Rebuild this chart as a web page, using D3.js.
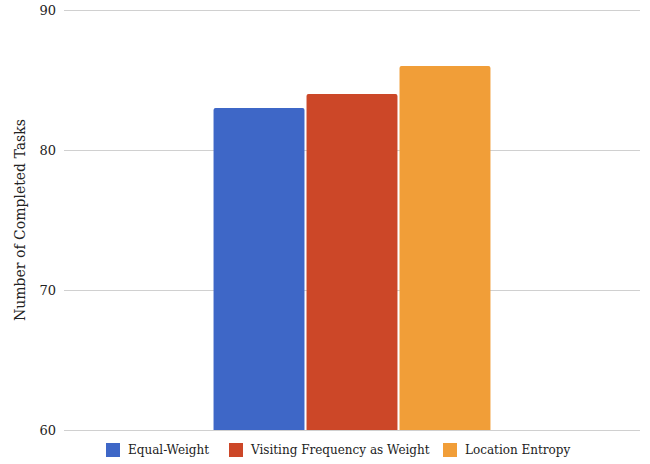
<!DOCTYPE html>
<html>
<head>
<meta charset="utf-8">
<script src="https://cdn.jsdelivr.net/npm/d3@7"></script>
<style>
  body { margin: 0; background: #fff; }
  text { font-family: "DejaVu Serif", Georgia, serif; fill: #222; }
</style>
</head>
<body>
<svg id="chart"></svg>
<script>
const categories = ['All'];
const seriesNames = ['Equal-Weight', 'Visiting Frequency as Weight', 'Location Entropy'];
const seriesValues = [83, 84, 86];
const seriesColors = ['#3e67c7', '#cc4728', '#f19e38'];
const yTicks = [60, 70, 80, 90];

const width = 650;
const height = 464;
const margin = { top: 10, right: 10, bottom: 34, left: 64 };

const svg = d3.select('#chart')
  .attr('width', width)
  .attr('height', height);

const x0 = d3.scaleBand()
  .domain(categories)
  .range([margin.left, width - margin.right])
  .paddingInner(0)
  .paddingOuter(0.54);

const x1 = d3.scaleBand()
  .domain(seriesNames)
  .range([0, x0.bandwidth()])
  .paddingInner(0.022);

const y = d3.scaleLinear()
  .domain([60, 90])
  .range([height - margin.bottom, margin.top]);

// gridlines
svg.append('g')
  .selectAll('line')
  .data(yTicks)
  .join('line')
    .attr('x1', margin.left)
    .attr('x2', width - margin.right)
    .attr('y1', d => y(d) + 0.5)
    .attr('y2', d => y(d) + 0.5)
    .attr('stroke', '#d0d0d0')
    .attr('stroke-width', 1);

// tick labels
svg.append('g')
  .selectAll('text')
  .data(yTicks)
  .join('text')
    .attr('x', margin.left - 8)
    .attr('y', d => y(d))
    .attr('dy', '0.35em')
    .attr('text-anchor', 'end')
    .attr('font-size', 13)
    .text(d => d);

// bars
const group = svg.append('g')
  .selectAll('g')
  .data(categories)
  .join('g')
    .attr('transform', d => `translate(${x0(d)},0)`);

group.selectAll('path')
  .data(() => seriesNames.map((name, i) => ({ name, value: seriesValues[i], color: seriesColors[i] })))
  .join('path')
    .attr('fill', d => d.color)
    .attr('d', d => {
      const bx = x1(d.name);
      const bw = x1.bandwidth();
      const top = y(d.value);
      const bottom = y(60);
      const r = 2;
      return `M${bx},${bottom}V${top + r}Q${bx},${top} ${bx + r},${top}H${bx + bw - r}Q${bx + bw},${top} ${bx + bw},${top + r}V${bottom}Z`;
    });

// y axis title
svg.append('text')
  .attr('transform', `translate(25,${(y(60) + y(90)) / 2}) rotate(-90)`)
  .attr('text-anchor', 'middle')
  .attr('font-size', 14)
  .text('Number of Completed Tasks');

// legend
const legend = svg.append('g')
  .attr('transform', `translate(0,${height - 14})`);

const legendX = [106, 229, 443];
seriesNames.forEach((name, i) => {
  const g = legend.append('g').attr('transform', `translate(${legendX[i]},0)`);
  g.append('rect')
    .attr('x', 0)
    .attr('y', -7)
    .attr('width', 14)
    .attr('height', 14)
    .attr('fill', seriesColors[i]);
  g.append('text')
    .attr('x', 22)
    .attr('y', 0)
    .attr('dy', '0.35em')
    .attr('font-size', 12)
    .text(name);
});
</script>
</body>
</html>
